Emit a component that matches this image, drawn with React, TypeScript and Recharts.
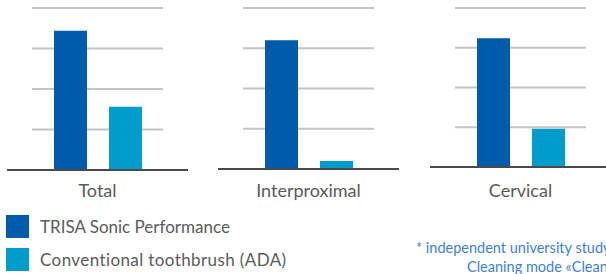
import React from 'react';
import { BarChart, Bar, XAxis, YAxis, CartesianGrid } from 'recharts';

const categories = ['Total', 'Interproximal', 'Cervical'];
const trisaValues = [86, 80, 81];
const conventionalValues = [39, 5, 24];
const seriesNames = ['TRISA Sonic Performance', 'Conventional toothbrush (ADA)'];
const yTicks = [0, 25, 50, 75, 100];
const footnoteLines = ['* independent university study', 'Cleaning mode «Clean»'];

const COLORS = ['#005BAA', '#009CCB'];
const FONT = 'Lato, "Noto Sans", sans-serif';
const TEXT = '#5a5a5a';

const panels = [
  { left: 7, bottom: 170 },
  { left: 218, bottom: 169 },
  { left: 430, bottom: 167 },
];

const PANEL_W = 181;
const PANEL_H = 205;
const TOP = 8;
const LABEL_TOP = 184;

const gridLine = (props: any) => {
  const { x1, x2, y1 } = props;
  return (
    <line
      key={`g-${y1}`}
      x1={x1 + 25}
      x2={x2 - 25}
      y1={y1}
      y2={y1}
      stroke="#c3c3c3"
      strokeWidth={2}
    />
  );
};

function Panel({ idx }: { idx: number }) {
  const p = panels[idx];
  const data = [
    { name: categories[idx], trisa: trisaValues[idx], conv: conventionalValues[idx] },
  ];
  const axisH = PANEL_H - p.bottom;
  return (
    <div style={{ position: 'absolute', left: p.left, top: 0 }}>
      <BarChart
        width={PANEL_W}
        height={PANEL_H}
        data={data}
        margin={{ top: TOP, right: 0, bottom: 0, left: 0 }}
        barGap={22}
        barSize={33}
      >
        <CartesianGrid vertical={false} horizontal={gridLine} />
        <YAxis hide domain={[0, 100]} ticks={yTicks} />
        <XAxis
          dataKey="name"
          height={axisH}
          axisLine={{ stroke: '#4a4a4a', strokeWidth: 2 }}
          tickLine={false}
          tickSize={0}
          tickMargin={LABEL_TOP - p.bottom}
          tick={{ fill: TEXT, fontSize: 18, fontFamily: FONT }}
        />
        <Bar dataKey="trisa" name={seriesNames[0]} fill={COLORS[0]} isAnimationActive={false} />
        <Bar dataKey="conv" name={seriesNames[1]} fill={COLORS[1]} isAnimationActive={false} />
      </BarChart>
    </div>
  );
}

export default function App() {
  return (
    <div
      style={{
        position: 'absolute',
        left: 0,
        top: 0,
        width: 606,
        height: 274,
        overflow: 'hidden',
        background: '#ffffff',
        fontFamily: FONT,
      }}
    >
      {categories.map((_, i) => (
        <Panel key={i} idx={i} />
      ))}
      {seriesNames.map((s, i) => (
        <div key={s} style={{ position: 'absolute', left: 6, top: 215 + i * 33, height: 23, display: 'flex', alignItems: 'center' }}>
          <div style={{ width: 23, height: 23, background: COLORS[i] }} />
          <div style={{ marginLeft: 11, fontSize: 17, color: TEXT, whiteSpace: 'nowrap', lineHeight: '23px', letterSpacing: i === 1 ? 0.4 : 0 }}>{s}</div>
        </div>
      ))}
      <div style={{ position: 'absolute', left: 416, top: 238, fontSize: 14.5, color: '#3F7FCF', whiteSpace: 'nowrap', lineHeight: '19px' }}>
        {footnoteLines[0]}
      </div>
      <div style={{ position: 'absolute', left: 467, top: 257, fontSize: 14.5, color: '#3F7FCF', whiteSpace: 'nowrap', lineHeight: '19px' }}>
        {footnoteLines[1]}
      </div>
    </div>
  );
}
